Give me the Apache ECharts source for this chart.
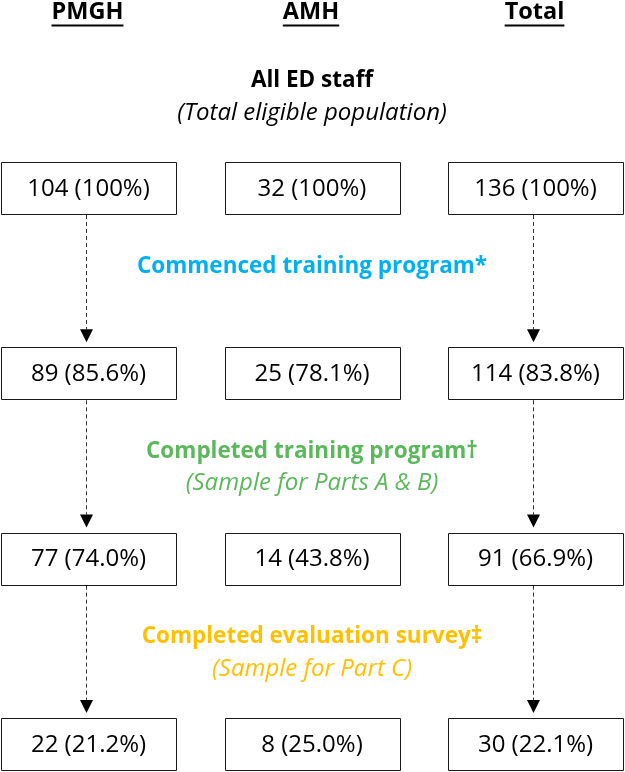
<!DOCTYPE html>
<html>
<head>
<meta charset="utf-8">
<script src="https://cdn.jsdelivr.net/npm/echarts@6/dist/echarts.min.js"></script>
<style>
html,body{margin:0;padding:0;background:#fff;}
#chart{width:625px;height:772px;}
</style>
</head>
<body>
<div id="chart"></div>
<script>
// ---- data ----
const sites = ['PMGH', 'AMH', 'Total'];
const stages = ['All ED staff', 'Commenced training program*', 'Completed training program\u2020', 'Completed evaluation survey\u2021'];
const stageNotes = ['(Total eligible population)', '', '(Sample for Parts A & B)', '(Sample for Part C)'];
const pmghCounts = [104, 89, 77, 22];
const pmghPct = [100, 85.6, 74.0, 21.2];
const amhCounts = [32, 25, 14, 8];
const amhPct = [100, 78.1, 43.8, 25.0];
const totalCounts = [136, 114, 91, 30];
const totalPct = [100, 83.8, 66.9, 22.1];
const arrowSites = ['PMGH', 'Total'];

// ---- styles / layout ----
const stageColors = ['#000000', '#00B0F0', '#5BB85B', '#FFC000'];
const FONT = '"Open Sans", "Noto Sans", sans-serif';
const BOX_W = 175, BOX_H = 52;

const counts = [pmghCounts, amhCounts, totalCounts];
const pcts = [pmghPct, amhPct, totalPct];
function fmtPct(p) { return (p === 100 ? '100' : p.toFixed(1)) + '%'; }

const boxData = [];
sites.forEach((s, c) => stages.forEach((st, r) => {
  boxData.push([s, st, counts[c][r], fmtPct(pcts[c][r])]);
}));
const arrowData = [];
arrowSites.forEach(s => { for (let r = 0; r < stages.length - 1; r++) arrowData.push([s, stages[r]]); });

const measureCtx = document.createElement('canvas').getContext('2d');

const chart = echarts.init(document.getElementById('chart'), null, {renderer: 'canvas'});
chart.setOption({
  backgroundColor: '#ffffff',
  animation: false,
  grid: {left: -23.25, width: 670.5, top: 95.3, height: 741.3, containLabel: false, outerBoundsMode: 'none'},
  xAxis: {type: 'category', data: sites, show: false},
  yAxis: {type: 'category', data: stages, inverse: true, show: false},
  series: [
    {
      type: 'custom', data: boxData, silent: true,
      renderItem: function (params, api) {
        const p = api.coord([api.value(0), api.value(1)]);
        const d = boxData[params.dataIndex];
        return {
          type: 'group', children: [
            {type: 'rect', shape: {x: Math.round(p[0] - BOX_W / 2) + 0.5, y: Math.round(p[1] - BOX_H / 2) + 0.5, width: BOX_W, height: BOX_H},
             style: {fill: '#fff', stroke: '#1a1a1a', lineWidth: 1}},
            {type: 'text', style: {text: d[2] + ' (' + d[3] + ')', x: p[0], y: p[1] + 1, align: 'center', verticalAlign: 'middle',
             fontFamily: FONT, fontSize: 24, fill: '#000'}}
          ]
        };
      }
    },
    {
      type: 'custom', data: arrowData, silent: true,
      renderItem: function (params, api) {
        const d = arrowData[params.dataIndex];
        const r = stages.indexOf(d[1]);
        const p0 = api.coord([d[0], stages[r]]);
        const p1 = api.coord([d[0], stages[r + 1]]);
        const x = Math.round(p0[0]) - 3 + 0.5;
        const y0 = p0[1] + BOX_H / 2 + 1;
        const tip = p1[1] - BOX_H / 2 - 5;
        const headH = 13, headW = 13;
        return {
          type: 'group', children: [
            {type: 'line', shape: {x1: x, y1: y0, x2: x, y2: tip - headH},
             style: {stroke: '#333', lineWidth: 1, lineDash: [4, 3]}},
            {type: 'polygon', shape: {points: [[x - headW / 2, tip - headH], [x + headW / 2, tip - headH], [x, tip]]},
             style: {fill: '#000'}}
          ]
        };
      }
    },
    {
      type: 'custom', data: stages.map((s, i) => [sites[1], s]), silent: true,
      renderItem: function (params, api) {
        const i = params.dataIndex;
        const p = api.coord([sites[1], stages[i]]);
        const ch = [
          {type: 'text', style: {text: stages[i], x: p[0], y: p[1] - 107, align: 'center', verticalAlign: 'middle',
           fontFamily: FONT, fontSize: 22.5, fontWeight: 'bold', fill: stageColors[i]}}
        ];
        if (stageNotes[i]) ch.push({type: 'text', style: {text: stageNotes[i], x: p[0], y: p[1] - 75, align: 'center', verticalAlign: 'middle',
           fontFamily: FONT, fontSize: 24, fontStyle: 'italic', fill: stageColors[i]}});
        return {type: 'group', children: ch};
      }
    },
    {
      type: 'custom', data: sites.map(s => [s, stages[0]]), silent: true,
      renderItem: function (params, api) {
        const s = sites[params.dataIndex];
        const p = api.coord([s, stages[0]]);
        measureCtx.font = 'bold 23.5px ' + FONT;
        const w = measureCtx.measureText(s).width;
        return {type: 'group', children: [
          {type: 'text', style: {text: s, x: p[0] - 1, y: 12, align: 'center', verticalAlign: 'middle',
           fontFamily: FONT, fontSize: 23.5, fontWeight: 'bold', fill: '#000'}},
          {type: 'line', shape: {x1: p[0] - 1 - w / 2, y1: 25.5, x2: p[0] - 1 + w / 2, y2: 25.5},
           style: {stroke: '#000', lineWidth: 2}}
        ]};
      }
    }
  ]
});
</script>
</body>
</html>
